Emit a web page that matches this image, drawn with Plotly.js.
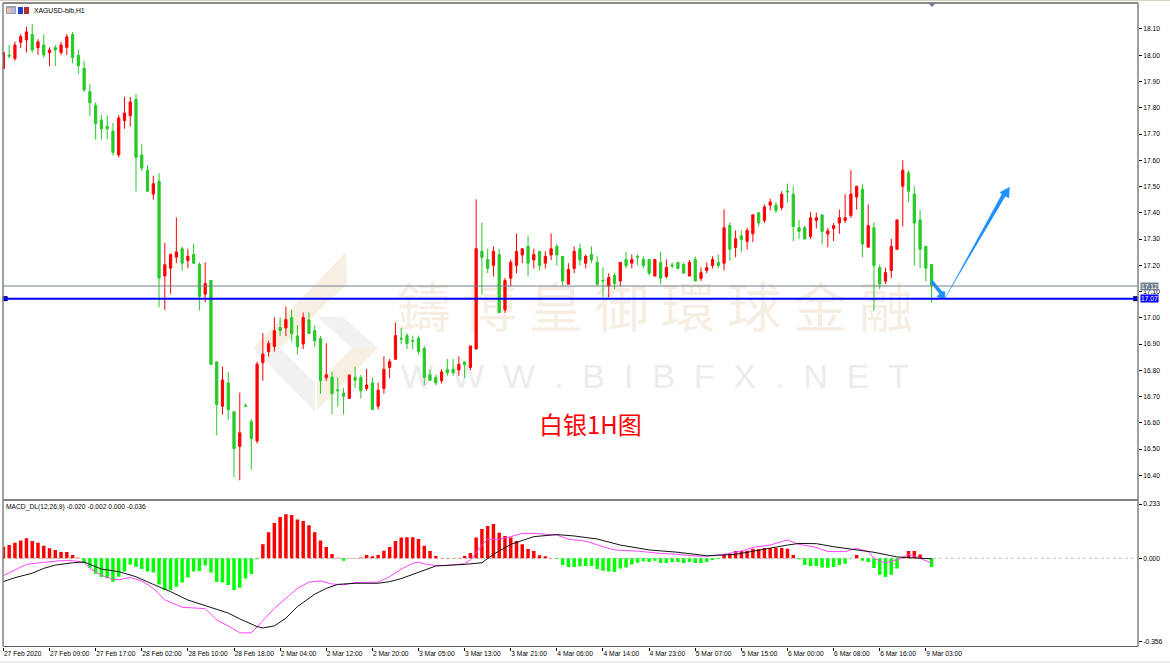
<!DOCTYPE html>
<html>
<head>
<meta charset="utf-8">
<title>XAGUSD-bib,H1</title>
<script src="https://cdn.plot.ly/plotly-3.0.1.min.js"></script>
<style>
  html, body { margin: 0; padding: 0; background: #fff; overflow: hidden; }
  #chart { width: 1170px; height: 663px; }
</style>
</head>
<body>
<div id="chart"></div>
<script>
/* ── Candles (bar 0 = 27 Feb 2020 01:00) ── */
var open = [17.949,18.001,17.988,18.049,18.058,18.079,18.029,18.039,18.010,18.029,18.010,18.030,18.079,18.000,17.950,17.861,17.809,17.753,17.730,17.711,
  17.620,17.751,17.770,17.832,17.620,17.562,17.471,17.520,17.159,17.189,17.231,17.263,17.218,17.241,17.203,17.090,17.142,16.832,16.663,16.752,
  16.642,16.510,16.665,16.604,16.531,16.829,16.871,16.891,16.963,16.961,17.001,16.931,16.900,16.992,16.951,16.921,16.772,16.774,16.726,16.713,
  16.693,16.773,16.773,16.731,16.752,16.663,16.731,16.811,16.842,16.923,16.932,16.913,16.922,16.883,16.783,16.773,16.760,16.804,16.804,16.801,
  16.832,16.811,16.881,17.253,17.222,17.199,17.241,17.030,17.151,17.199,17.239,17.272,17.220,17.253,17.208,17.239,17.272,17.234,17.128,17.188,
  17.263,17.208,17.241,17.211,17.142,17.120,17.161,17.140,17.222,17.208,17.234,17.222,17.222,17.159,17.211,17.157,17.201,17.211,17.203,17.159,
  17.222,17.150,17.180,17.199,17.211,17.208,17.352,17.268,17.312,17.291,17.320,17.400,17.371,17.429,17.429,17.420,17.483,17.471,17.343,17.343,
  17.310,17.371,17.392,17.319,17.340,17.361,17.371,17.390,17.460,17.490,17.269,17.343,17.191,17.139,17.180,17.261,17.501,17.552,17.471,17.373,
  17.272,17.203];
var high = [18.010,18.039,18.052,18.080,18.109,18.119,18.061,18.080,18.030,18.039,18.051,18.080,18.089,18.020,17.979,17.890,17.820,17.772,17.772,17.742,
  17.772,17.841,17.841,17.852,17.661,17.581,17.541,17.551,17.285,17.245,17.382,17.272,17.263,17.282,17.211,17.211,17.142,16.833,16.814,16.794,
  16.642,16.715,16.674,16.614,16.833,16.942,16.913,17.002,17.002,17.043,17.031,16.972,17.020,17.021,16.972,16.931,16.903,16.795,16.773,16.732,
  16.782,16.814,16.783,16.805,16.773,16.753,16.853,16.843,16.982,16.961,16.942,16.932,16.932,16.893,16.804,16.783,16.804,16.843,16.843,16.853,
  16.832,16.893,17.451,17.362,17.263,17.272,17.263,17.152,17.222,17.321,17.263,17.312,17.263,17.253,17.253,17.321,17.282,17.234,17.208,17.272,
  17.282,17.241,17.272,17.234,17.192,17.170,17.170,17.211,17.251,17.241,17.241,17.234,17.222,17.222,17.251,17.222,17.211,17.211,17.211,17.220,
  17.234,17.192,17.211,17.234,17.241,17.413,17.363,17.333,17.333,17.343,17.392,17.401,17.432,17.454,17.441,17.482,17.511,17.501,17.372,17.351,
  17.403,17.401,17.392,17.343,17.361,17.412,17.471,17.562,17.501,17.511,17.432,17.363,17.203,17.191,17.301,17.373,17.600,17.562,17.501,17.412,
  17.272,17.203];
var low = [17.949,17.988,17.979,18.027,18.010,18.010,18.001,17.990,17.959,17.959,18.000,18.001,17.969,17.929,17.860,17.768,17.679,17.679,17.679,17.618,
  17.611,17.720,17.728,17.481,17.560,17.480,17.450,17.040,17.030,17.091,17.208,17.180,17.189,17.205,17.028,17.059,16.820,16.552,16.631,16.612,
  16.392,16.381,16.662,16.422,16.521,16.760,16.852,16.871,16.931,16.931,16.911,16.860,16.881,16.938,16.890,16.711,16.760,16.632,16.662,16.632,
  16.693,16.732,16.693,16.722,16.651,16.651,16.711,16.770,16.842,16.900,16.881,16.881,16.860,16.743,16.762,16.743,16.750,16.779,16.779,16.779,
  16.771,16.801,16.880,17.089,17.170,17.157,17.019,17.019,17.120,17.170,17.208,17.159,17.188,17.180,17.188,17.220,17.199,17.120,17.128,17.170,
  17.199,17.188,17.208,17.120,17.078,17.078,17.109,17.120,17.188,17.188,17.199,17.188,17.161,17.159,17.128,17.151,17.188,17.188,17.170,17.159,
  17.140,17.140,17.170,17.188,17.188,17.180,17.218,17.231,17.250,17.260,17.288,17.348,17.361,17.409,17.399,17.409,17.440,17.292,17.300,17.300,
  17.300,17.340,17.279,17.269,17.292,17.320,17.361,17.380,17.412,17.231,17.269,17.027,17.109,17.129,17.151,17.261,17.348,17.440,17.199,17.189,
  17.139,17.059];
var close = [18.010,17.997,18.039,18.071,18.089,18.020,18.051,18.001,18.020,18.020,18.039,18.070,17.991,17.960,17.868,17.819,17.739,17.720,17.720,17.630,
  17.761,17.780,17.822,17.611,17.570,17.482,17.511,17.151,17.202,17.241,17.251,17.208,17.234,17.208,17.081,17.131,16.823,16.670,16.763,16.650,
  16.502,16.562,16.663,16.540,16.823,16.862,16.902,16.951,16.951,16.993,16.940,16.890,17.001,16.940,16.912,16.760,16.783,16.711,16.722,16.701,
  16.782,16.762,16.722,16.744,16.651,16.724,16.804,16.833,16.932,16.919,16.902,16.911,16.871,16.773,16.762,16.752,16.794,16.791,16.791,16.823,
  16.821,16.893,17.263,17.230,17.188,17.253,17.019,17.142,17.211,17.253,17.263,17.208,17.241,17.199,17.234,17.263,17.239,17.140,17.184,17.253,
  17.220,17.234,17.220,17.128,17.140,17.153,17.131,17.211,17.199,17.222,17.231,17.199,17.170,17.222,17.151,17.192,17.198,17.188,17.170,17.211,
  17.140,17.172,17.191,17.222,17.199,17.343,17.261,17.301,17.298,17.333,17.392,17.361,17.422,17.441,17.409,17.471,17.480,17.348,17.329,17.300,
  17.381,17.381,17.329,17.331,17.351,17.381,17.381,17.471,17.501,17.281,17.351,17.199,17.129,17.172,17.272,17.373,17.562,17.482,17.361,17.261,
  17.189,17.123];

/* ── MACD histogram ── */
var macdHist = [.050,.057,.067,.077,.086,.074,.067,.054,.043,.036,.027,.027,.014,.003,-.021,-.040,-.066,-.080,-.086,-.100,
  -.079,-.057,-.026,-.036,-.046,-.057,-.061,-.112,-.136,-.136,-.122,-.104,-.082,-.056,-.054,-.031,-.061,-.102,-.104,-.114,
  -.136,-.126,-.087,-.067,-.003,.061,.112,.152,.177,.189,.186,.167,.160,.142,.112,.077,.049,.019,.003,-.010,
  .001,.001,.004,.014,.009,.014,.033,.049,.074,.089,.090,.090,.083,.054,.031,.010,.001,.001,.001,.001,
  .010,.023,.089,.126,.139,.147,.110,.096,.089,.074,.061,.040,.031,.013,.009,.001,-.003,-.029,-.037,-.037,
  -.034,-.033,-.033,-.046,-.053,-.056,-.059,-.044,-.039,-.027,-.019,-.013,-.016,-.010,-.020,-.020,-.016,-.016,-.020,-.016,
  -.020,-.020,-.016,-.007,-.003,.019,.020,.031,.031,.033,.041,.040,.044,.044,.044,.044,.041,.014,-.004,-.029,
  -.033,-.033,-.039,-.040,-.037,-.029,-.023,-.001,.014,-.010,-.016,-.041,-.071,-.080,-.071,-.044,.006,.031,.031,.017,
  -.003,-.037];

/* ── MACD lines, read at the bars where they bend ── */
var macdBars = [0,2,4,6,8,10,12,14,15,17,19,20,22,24,26,28,30,31,35,37,39,41,43,44,47,50,51,53,55,57,59,61,65,67,69,
  71,72,73,75,77,80,81,83,84,86,88,90,92,96,98,101,104,106,110,114,117,120,122,125,128,130,133,136,138,
  141,143,146,148,150,151,153,155,157,158,160,161];
var macdVals = [-.074,-.050,-.026,-.020,-.014,-.010,-.010,-.017,-.043,-.072,-.090,-.092,-.082,-.097,-.129,-.179,-.199,-.210,-.216,-.265,-.290,-.320,-.320,-.293,-.215,-.150,-.129,-.102,-.097,-.110,-.114,-.104,-.102,-.079,-.046,
  -.021,-.016,-.024,-.031,-.030,-.023,-.007,.057,.082,.082,.093,.107,.107,.100,.082,.074,.050,.036,.031,.021,.017,.010,.009,.017,.031,.047,.057,.079,.060,
  .047,.029,.029,.043,.029,.000,-.020,-.007,.017,.011,-.010,-.021];
var signalBars = [0,2,5,7,9,12,14,17,20,23,26,29,32,35,39,41,44,45,47,49,51,54,56,58,61,65,67,69,
  72,75,80,83,85,88,92,96,99,103,107,112,117,122,127,130,133,136,138,141,144,147,151,155,158,160,161];
var signalVals = [-.100,-.083,-.064,-.043,-.029,-.019,-.016,-.046,-.057,-.079,-.112,-.143,-.179,-.203,-.235,-.260,-.293,-.299,-.290,-.257,-.207,-.154,-.129,-.112,-.107,-.107,-.100,-.087,
  -.061,-.033,-.026,-.019,.017,.060,.093,.102,.096,.083,.057,.036,.026,.011,.017,.031,.043,.057,.064,.063,.050,.040,.026,.006,.000,-.001,-.002];

/* ── Axis labels ── */
var timeBars = [0,8,16,24,32,40,48,56,64,72,80,88,96,104,112,120,128,136,144,152,160];
var timeLabels = ['27 Feb 2020','27 Feb 09:00','27 Feb 17:00','28 Feb 02:00','28 Feb 10:00','28 Feb 18:00','2 Mar 04:00',
  '2 Mar 12:00','2 Mar 20:00','3 Mar 05:00','3 Mar 13:00','3 Mar 21:00','4 Mar 06:00','4 Mar 14:00','4 Mar 23:00',
  '5 Mar 07:00','5 Mar 15:00','6 Mar 00:00','6 Mar 08:00','6 Mar 16:00','9 Mar 03:00'];
var priceTicks = [16.4,16.5,16.6,16.7,16.8,16.9,17.0,17.1,17.2,17.3,17.4,17.5,17.6,17.7,17.8,17.9,18.0,18.1];
var macdTicks = [0.233,0,-0.356];
var macdTickText = ['0.233','0.000','-0.356'];

/* ── Price levels and drawn arrows ── */
var lastPrice = 17.121;
var levelPrice = 17.073;
var levelBars = [0.3,196.4];
var arrowDownBars = [160.8,161.2,162.8,163.3,163.3,161.9,162.4];
var arrowDownVals = [17.134,17.142,17.100,17.100,17.071,17.081,17.090];
var arrowUpBars = [163.3,173.2,172.9,174.5,174.4,173.8];
var arrowUpVals = [17.073,17.470,17.478,17.497,17.457,17.463];

var W = 1170, H = 663;
var RED = '#ff0000', CANDLE_GREEN = '#27c927', HIST_GREEN = '#00ff00';
var ARROW = '#1e90ff', LEVEL = '#0000ff';
var FONT = '"Liberation Sans", Arial, sans-serif';

function pxX(x) { return x / W; }
function pxY(y) { return 1 - y / H; }

/* polygon path in page pixels, for the frame bits and the watermark logo */
function poly(pts) {
  return 'M' + pts.map(function (p) { return pxX(p[0]) + ',' + pxY(p[1]); }).join('L') + 'Z';
}
function pageLine(x0, y0, x1, y1, color, width) {
  return { type: 'line', xref: 'paper', yref: 'paper', x0: pxX(x0), x1: pxX(x1), y0: pxY(y0), y1: pxY(y1),
    line: { color: color, width: width } };
}
function pagePoly(pts, color, layer) {
  return { type: 'path', xref: 'paper', yref: 'paper', path: poly(pts), fillcolor: color,
    line: { width: 0 }, layer: layer || 'above' };
}
function pageRect(x0, y0, x1, y1, color) {
  return { type: 'rect', xref: 'paper', yref: 'paper', x0: pxX(x0), x1: pxX(x1), y0: pxY(y0), y1: pxY(y1),
    fillcolor: color, line: { width: 0 } };
}
/* text that has to sit under the candles: an empty rect carrying a label */
function underText(text, x0, y0, x1, y1, size, color, family) {
  return { type: 'rect', xref: 'paper', yref: 'paper', layer: 'below',
    x0: pxX(x0), x1: pxX(x1), y0: pxY(y0), y1: pxY(y1), line: { width: 0 }, fillcolor: 'rgba(0,0,0,0)',
    label: { text: text, textposition: 'middle center', font: { size: size, color: color, family: family } } };
}

var bars = open.map(function (v, i) { return i; });

var traces = [
  {
    type: 'candlestick', x: bars, open: open, high: high, low: low, close: close,
    xaxis: 'x', yaxis: 'y', hoverinfo: 'skip',
    increasing: { line: { color: RED, width: 1 }, fillcolor: RED },
    decreasing: { line: { color: CANDLE_GREEN, width: 1 }, fillcolor: CANDLE_GREEN },
    whiskerwidth: 0
  },
  {
    type: 'scatter', mode: 'lines', x: arrowDownBars, y: arrowDownVals, fill: 'toself', fillcolor: ARROW,
    line: { color: ARROW, width: 0.5 }, xaxis: 'x', yaxis: 'y', hoverinfo: 'skip'
  },
  {
    type: 'scatter', mode: 'lines', x: arrowUpBars, y: arrowUpVals, fill: 'toself', fillcolor: ARROW,
    line: { color: ARROW, width: 0.5 }, xaxis: 'x', yaxis: 'y', hoverinfo: 'skip'
  },
  {
    type: 'scatter', mode: 'markers', x: levelBars, y: [levelPrice, levelPrice], cliponaxis: false,
    marker: { symbol: 'square', size: 5, color: '#000080' }, xaxis: 'x', yaxis: 'y', hoverinfo: 'skip'
  },
  {
    type: 'bar', x: bars, y: macdHist, width: 0.6, xaxis: 'x2', yaxis: 'y2', hoverinfo: 'skip',
    marker: { color: macdHist.map(function (v) { return v >= 0 ? RED : HIST_GREEN; }), line: { width: 0 } }
  },
  {
    type: 'scatter', mode: 'lines', x: macdBars, y: macdVals, xaxis: 'x2', yaxis: 'y2', hoverinfo: 'skip',
    line: { color: '#ff44ff', width: 1 }
  },
  {
    type: 'scatter', mode: 'lines', x: signalBars, y: signalVals, xaxis: 'x2', yaxis: 'y2', hoverinfo: 'skip',
    line: { color: '#111111', width: 1 }
  }
];

var shapes = [
  /* watermark logo */
  pagePoly([[346,252],[347,284],[280,348],[253,348]], '#f7efe2', 'below'),
  pagePoly([[352,348],[378,348],[317,410],[317,383]], '#f7efe2', 'below'),
  pagePoly([[317,317],[343,317],[378,348],[352,348]], '#f1f1f1', 'below'),
  pagePoly([[253,348],[280,348],[315,383],[315,412]], '#f1f1f1', 'below'),
  /* watermark text */
  underText('鑄 博 皇 御 環 球 金 融', 380, 281, 930, 346, 54, '#f6eee3', '"Noto Sans CJK TC"'),
  underText('W\u00a0\u00a0W\u00a0\u00a0W\u00a0\u00a0.\u00a0\u00a0B\u00a0\u00a0I\u00a0\u00a0B\u00a0\u00a0F\u00a0\u00a0X\u00a0\u00a0.\u00a0\u00a0N\u00a0\u00a0E\u00a0\u00a0T',
    380, 350, 930, 395, 34, '#ececec', FONT),
  /* zero line of the MACD panel */
  { type: 'line', xref: 'paper', yref: 'y2', x0: pxX(3), x1: pxX(1138), y0: 0, y1: 0, layer: 'below',
    line: { color: '#c0c0c0', width: 1, dash: 'dot' } },
  /* price levels */
  { type: 'line', xref: 'paper', yref: 'y', x0: pxX(3), x1: pxX(1138), y0: lastPrice, y1: lastPrice,
    line: { color: '#70808f', width: 1 } },
  { type: 'line', xref: 'paper', yref: 'y', x0: pxX(3), x1: pxX(1138), y0: levelPrice, y1: levelPrice,
    line: { color: LEVEL, width: 2 } },
  /* frame */
  pageLine(0, 0.5, 1170, 0.5, '#d4d0c8', 1),
  pageLine(3, 3, 1138, 3, '#606060', 1.5),
  pageLine(3, 3, 3, 646, '#808080', 1.5),
  pageLine(1138, 3, 1138, 646.5, '#808080', 1.5),
  pageLine(3, 500, 1138, 500, '#808080', 2),
  pageLine(3, 646.5, 1138, 646.5, '#606060', 1),
  pageRect(0, 661, 1170, 663, '#ececec'),
  /* bar-shift marker on the top edge */
  pagePoly([[928.5,3.5],[935.5,3.5],[932,7]], '#708090'),
  /* window icons next to the symbol name */
  pageRect(6, 6, 16, 14, '#9aa0a8'),
  pageRect(7, 8, 11, 13, '#f3b8a8'),
  pageRect(11, 8, 15, 13, '#aebbe0'),
  pageRect(18, 7, 23, 14, '#2040d0'),
  pageRect(24, 7, 29, 14, '#b03028')
];

var annotations = [
  { xref: 'paper', yref: 'paper', x: pxX(31.5), y: pxY(10.5), text: 'XAGUSD-bib,H1', showarrow: false,
    xanchor: 'left', yanchor: 'middle', font: { size: 6.8, color: '#000', family: FONT } },
  { xref: 'paper', yref: 'paper', x: pxX(3.5), y: pxY(507.5), text: 'MACD_DL(12,26,9) -0.020 -0.002 0.000 -0.036', showarrow: false,
    xanchor: 'left', yanchor: 'middle', font: { size: 6.7, color: '#000', family: FONT } },
  { xref: 'paper', yref: 'paper', x: pxX(590), y: pxY(424), text: '白银1H图', showarrow: false,
    xanchor: 'center', yanchor: 'middle', font: { size: 24, color: '#ff0000', family: '"Noto Sans CJK SC"' } },
  { xref: 'paper', yref: 'y', x: pxX(1140), y: lastPrice, text: lastPrice.toFixed(2), showarrow: false,
    xanchor: 'left', yanchor: 'middle', bgcolor: '#708090', borderpad: 0, font: { size: 6.7, color: '#fff', family: FONT } },
  { xref: 'paper', yref: 'y', x: pxX(1140), y: levelPrice, text: levelPrice.toFixed(2), showarrow: false,
    xanchor: 'left', yanchor: 'middle', bgcolor: LEVEL, borderpad: 0, font: { size: 6.7, color: '#fff', family: FONT } }
];

var xRange = [-0.07, 196.8];
var tickFont = { size: 6.7, color: '#000', family: FONT };

var layout = {
  width: W, height: H,
  margin: { l: 0, r: 0, t: 0, b: 0 },
  paper_bgcolor: '#ffffff',
  plot_bgcolor: 'rgba(0,0,0,0)',
  showlegend: false,
  hovermode: false,
  barmode: 'overlay',
  boxgap: 0.45,
  font: { family: FONT },
  xaxis: {
    domain: [pxX(3), pxX(1138)], range: xRange, anchor: 'y',
    showticklabels: false, ticks: '', showgrid: false, zeroline: false, showline: false,
    rangeslider: { visible: false }, fixedrange: true
  },
  yaxis: {
    domain: [pxY(500), pxY(3)], range: [16.306, 18.199], anchor: 'x', side: 'right',
    tickmode: 'array', tickvals: priceTicks, ticktext: priceTicks.map(function (v) { return v.toFixed(2); }),
    ticks: 'outside', ticklen: 3, tickcolor: '#000', tickwidth: 1, tickfont: tickFont,
    showgrid: false, zeroline: false, showline: false, fixedrange: true
  },
  xaxis2: {
    domain: [pxX(3), pxX(1138)], range: xRange, anchor: 'y2',
    tickmode: 'array', tickvals: timeBars, ticktext: timeLabels, ticklabelposition: 'outside right', tickangle: 0,
    ticks: 'outside', ticklen: 3, tickcolor: '#000', tickwidth: 1, tickfont: tickFont,
    showgrid: false, zeroline: false, showline: false, fixedrange: true
  },
  yaxis2: {
    domain: [pxY(646.5), pxY(501.5)], range: [-0.3785, 0.244], anchor: 'x2', side: 'right',
    tickmode: 'array', tickvals: macdTicks, ticktext: macdTickText,
    ticks: 'outside', ticklen: 3, tickcolor: '#000', tickwidth: 1, tickfont: tickFont,
    showgrid: false, zeroline: false, showline: false, fixedrange: true
  },
  shapes: shapes,
  annotations: annotations
};

Plotly.newPlot('chart', traces, layout, { displayModeBar: false, staticPlot: true });
</script>
</body>
</html>
